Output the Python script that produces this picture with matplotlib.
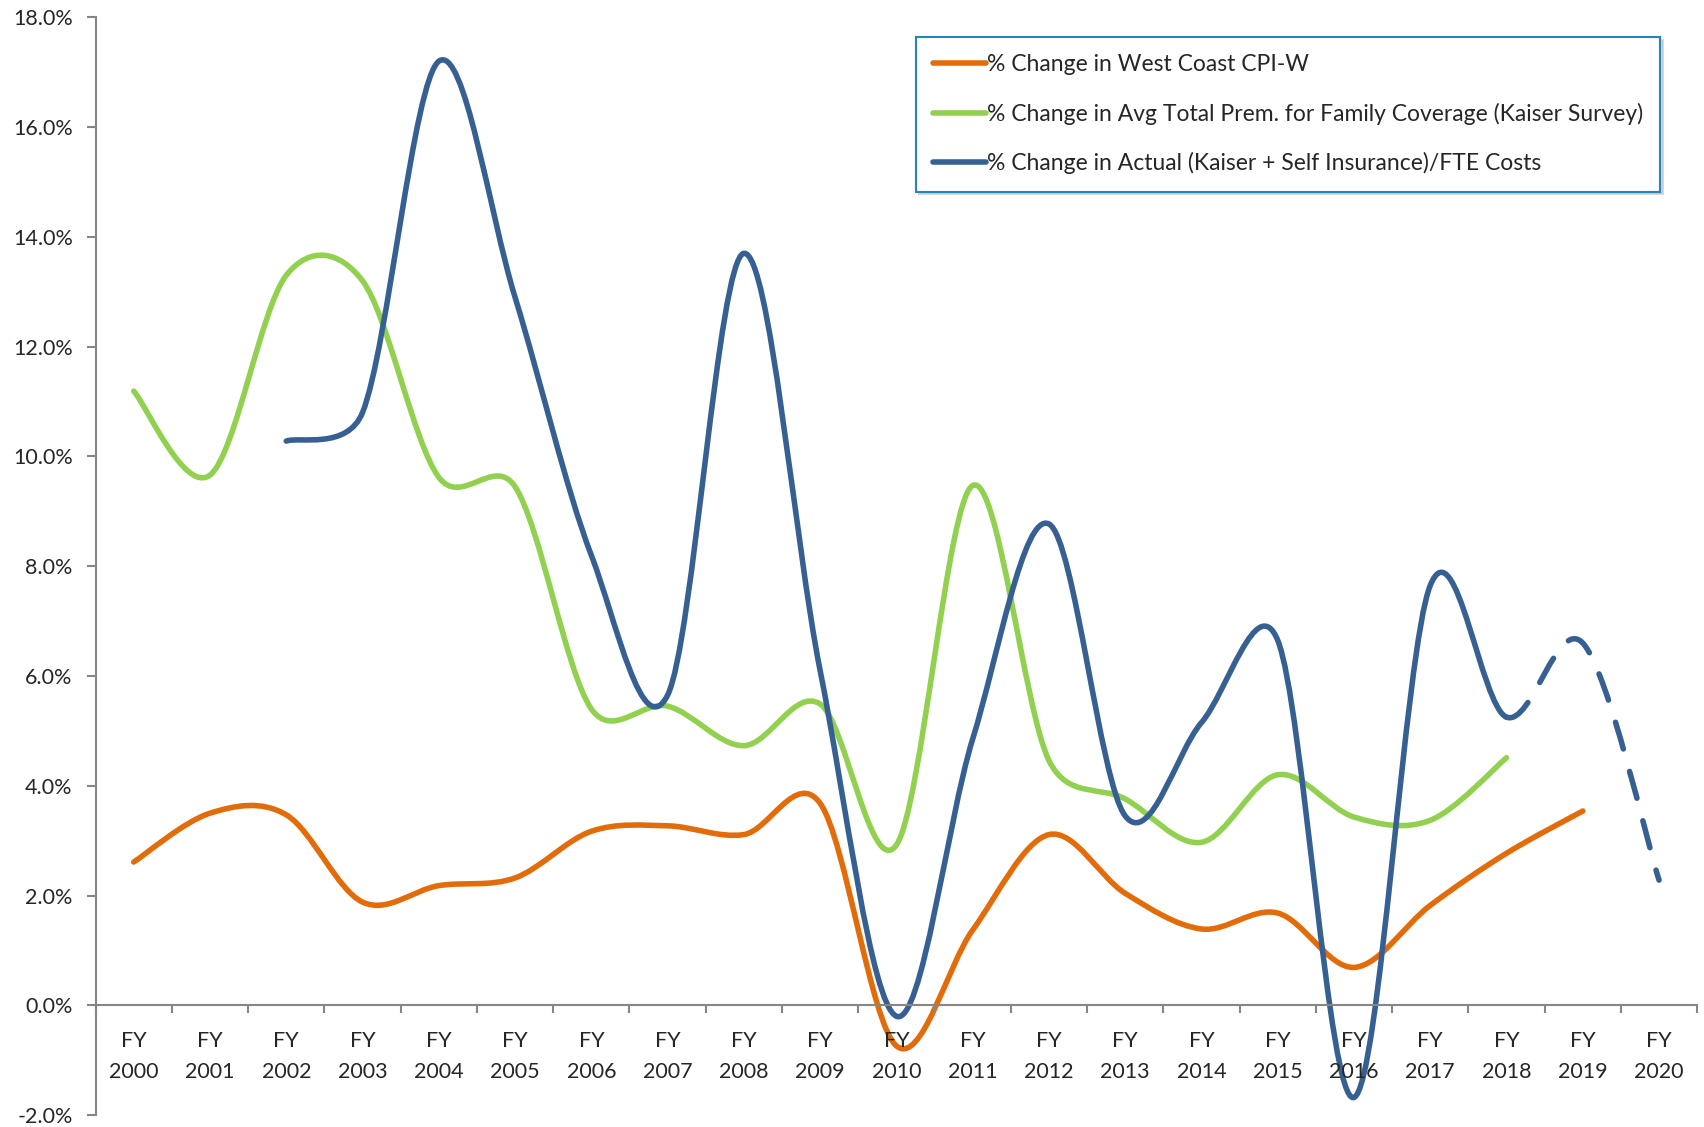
from matplotlib import pyplot as plt
from matplotlib.path import Path
from matplotlib.patches import PathPatch
from matplotlib.lines import Line2D
from matplotlib.ticker import FuncFormatter
import numpy as np

years = list(range(2000, 2021))
tick_labels = ["FY\n%d" % y for y in years]

# % change values (None = no data)
cpi_w = [2.61, 3.50, 3.47, 1.88, 2.18, 2.32, 3.17, 3.27, 3.11, 3.68, -0.74,
         1.37, 3.11, 2.04, 1.39, 1.68, 0.69, 1.82, 2.77, 3.54, None]
kaiser_survey = [11.19, 9.66, 13.30, 13.20, 9.62, 9.45, 5.40, 5.45, 4.73, 5.49, 2.92,
                 9.47, 4.46, 3.76, 2.97, 4.20, 3.43, 3.37, 4.51, None, None]
actual_fte = [None, None, 10.28, 10.80, 17.20, 12.90, 8.20, 5.65, 13.70, 6.10, -0.20,
              4.85, 8.77, 3.45, 5.15, 6.65, -1.68, 7.65, 5.25, 6.60, 2.28]
projected_from = 18  # FY2018 onwards is dashed (projection)

labels = ["% Change in West Coast CPI-W",
          "% Change in Avg Total Prem. for Family Coverage (Kaiser Survey)",
          "% Change in Actual (Kaiser + Self Insurance)/FTE Costs"]
colors = ["#E36C0A", "#92D050", "#376092"]

FONT = "Lato"
FS = 15.5
TXT = "#262626"


def bezier_segments(ax, xs, ys):
    # spreadsheet-style smoothed line: cubic bezier through the points,
    # tangent arm = (next - prev)/6, capped at half the adjacent chord (screen px)
    pts = ax.transData.transform(np.column_stack([xs, ys]))
    n = len(pts)
    dist = [np.hypot(*(pts[i + 1] - pts[i])) for i in range(n - 1)]
    arms_out = []
    arms_in = []
    for i in range(n):
        pm = pts[i - 1] if i > 0 else pts[i]
        pp = pts[i + 1] if i < n - 1 else pts[i]
        arm = (pp - pm) / 6.0
        alen = np.hypot(*arm)
        a_in = arm.copy()
        a_out = arm.copy()
        if i > 0 and alen > dist[i - 1] / 2:
            a_in = arm * (dist[i - 1] / 2) / alen
        if i < n - 1 and alen > dist[i] / 2:
            a_out = arm * (dist[i] / 2) / alen
        arms_in.append(a_in)
        arms_out.append(a_out)
    segs = []
    for i in range(n - 1):
        p0, p1 = pts[i], pts[i + 1]
        c1 = p0 + arms_out[i]
        c2 = p1 - arms_in[i + 1]
        segs.append(ax.transData.inverted().transform(np.array([p0, c1, c2, p1])))
    return segs


def draw_smooth(ax, vals, color, dash_from=None):
    xs = [i for i, v in enumerate(vals) if v is not None]
    ys = [v for v in vals if v is not None]
    segs = bezier_segments(ax, xs, ys)
    solid = [s for s in segs if dash_from is None or s[0][0] < dash_from - 1e-6]
    dashed = [s for s in segs if dash_from is not None and s[0][0] >= dash_from - 1e-6]
    for group, ls in ((solid, '-'), (dashed, (0, (5, 4.2)))):
        if not group:
            continue
        verts = [group[0][0]]
        codes = [Path.MOVETO]
        for s in group:
            verts += [s[1], s[2], s[3]]
            codes += [Path.CURVE4] * 3
        patch = PathPatch(Path(verts, codes), facecolor='none', edgecolor=color,
                          lw=4.0, linestyle=ls, capstyle='round', joinstyle='round')
        ax.add_patch(patch)


fig = plt.figure(figsize=(17.04, 11.27), dpi=100)
ax = fig.add_axes([0.0561, 0.0106, 0.9399, 0.974])
ax.set_xlim(-0.5, 20.5)
ax.set_ylim(-2, 18)

draw_smooth(ax, cpi_w, colors[0])
draw_smooth(ax, kaiser_survey, colors[1])
draw_smooth(ax, actual_fte, colors[2], dash_from=projected_from)

ax.set_yticks(np.arange(-2, 18.1, 2))
ax.yaxis.set_major_formatter(FuncFormatter(lambda v, p: "%.1f%%" % v))

ax.spines['top'].set_visible(False)
ax.spines['right'].set_visible(False)
ax.spines['bottom'].set_position(('data', 0))
for sp in ('left', 'bottom'):
    ax.spines[sp].set_color('#868686')
    ax.spines[sp].set_linewidth(1.5)

ax.set_xticks(range(len(years)))
ax.set_xticklabels(tick_labels, fontname=FONT, fontsize=FS, color=TXT, linespacing=1.7)
ax.set_xticks(np.arange(-0.5, 20.6, 1), minor=True)
ax.tick_params(axis='x', which='major', length=0, pad=18.5)
ax.tick_params(axis='x', which='minor', length=6, width=1.5, color='#868686', direction='out')
ax.tick_params(axis='y', length=6.5, width=1.5, color='#868686', pad=10)
for t in ax.get_yticklabels():
    t.set_fontname(FONT)
    t.set_fontsize(FS)
    t.set_color(TXT)

handles = [Line2D([], [], color=c, lw=4.0, solid_capstyle='round') for c in colors]
leg = ax.legend(handles, labels, loc='upper right', bbox_to_anchor=(0.977, 0.982),
                borderaxespad=0, frameon=True, fancybox=False,
                shadow={'color': '#bfbfbf', 'alpha': 0.6},
                prop={'family': FONT, 'size': 16.5}, handlelength=2.3, handletextpad=0.05,
                labelspacing=1.2, borderpad=0.75)
leg.get_frame().set_edgecolor('#1F88B8')
leg.get_frame().set_linewidth(1.5)
for t in leg.get_texts():
    t.set_color(TXT)

plt.savefig("out.png", dpi=100)
